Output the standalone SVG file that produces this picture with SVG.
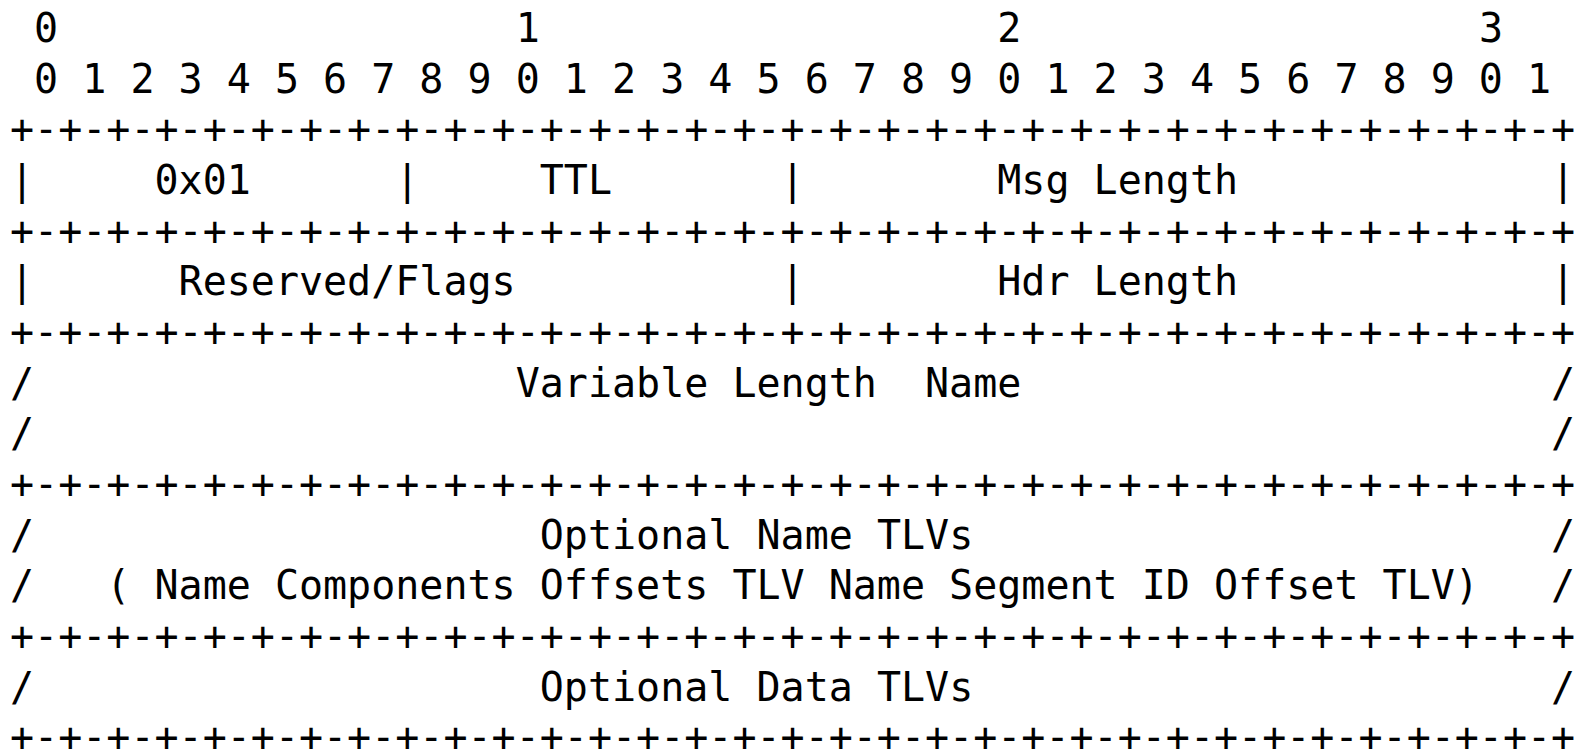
<svg xmlns="http://www.w3.org/2000/svg" width="1581" height="751" viewBox="0 0 1581 751">
<style>
text{font-family:"DejaVu Sans Mono","Liberation Mono",monospace;font-size:40px;fill:#000;}
</style>
<rect x="0" y="0" width="1581" height="751" fill="#fff"/>
<g id="ruler">
<text x="34.08" y="42">0</text>
<text x="515.68" y="42">1</text>
<text x="997.28" y="42">2</text>
<text x="1478.88" y="42">3</text>
<text x="34.08" y="92.7" textLength="1517.04" lengthAdjust="spacing">0 1 2 3 4 5 6 7 8 9 0 1 2 3 4 5 6 7 8 9 0 1 2 3 4 5 6 7 8 9 0 1</text>
</g>
<g id="connectors">
<text x="10" y="143.3" textLength="1565.2" lengthAdjust="spacing">+-+-+-+-+-+-+-+-+-+-+-+-+-+-+-+-+-+-+-+-+-+-+-+-+-+-+-+-+-+-+-+-+</text>
<text x="10" y="244.7" textLength="1565.2" lengthAdjust="spacing">+-+-+-+-+-+-+-+-+-+-+-+-+-+-+-+-+-+-+-+-+-+-+-+-+-+-+-+-+-+-+-+-+</text>
<text x="10" y="346" textLength="1565.2" lengthAdjust="spacing">+-+-+-+-+-+-+-+-+-+-+-+-+-+-+-+-+-+-+-+-+-+-+-+-+-+-+-+-+-+-+-+-+</text>
<text x="10" y="498" textLength="1565.2" lengthAdjust="spacing">+-+-+-+-+-+-+-+-+-+-+-+-+-+-+-+-+-+-+-+-+-+-+-+-+-+-+-+-+-+-+-+-+</text>
<text x="10" y="650" textLength="1565.2" lengthAdjust="spacing">+-+-+-+-+-+-+-+-+-+-+-+-+-+-+-+-+-+-+-+-+-+-+-+-+-+-+-+-+-+-+-+-+</text>
<text x="10" y="751.4" textLength="1565.2" lengthAdjust="spacing">+-+-+-+-+-+-+-+-+-+-+-+-+-+-+-+-+-+-+-+-+-+-+-+-+-+-+-+-+-+-+-+-+</text>
<text x="10" y="194">|</text>
<text x="395.28" y="194">|</text>
<text x="780.56" y="194">|</text>
<text x="1551.12" y="194">|</text>
<text x="10" y="295.4">|</text>
<text x="780.56" y="295.4">|</text>
<text x="1551.12" y="295.4">|</text>
<text x="10" y="396.7">/</text>
<text x="1551.12" y="396.7">/</text>
<text x="10" y="447.4">/</text>
<text x="1551.12" y="447.4">/</text>
<text x="10" y="548.7">/</text>
<text x="1551.12" y="548.7">/</text>
<text x="10" y="599.4">/</text>
<text x="1551.12" y="599.4">/</text>
<text x="10" y="700.7">/</text>
<text x="1551.12" y="700.7">/</text>
</g>
<g id="field-type"><text x="154.48" y="194">0x01</text></g>
<g id="field-ttl"><text x="539.76" y="194">TTL</text></g>
<g id="field-msg-length"><text x="997.28" y="194">Msg Length</text></g>
<g id="field-flags"><text x="178.56" y="295.4">Reserved/Flags</text></g>
<g id="field-hdr-length"><text x="997.28" y="295.4">Hdr Length</text></g>
<g id="field-name"><text x="515.68" y="396.7" textLength="505.68" lengthAdjust="spacing" xml:space="preserve">Variable Length  Name</text></g>
<g id="field-name-tlvs">
<text x="539.76" y="548.7">Optional Name TLVs</text>
<text x="106.32" y="599.4" textLength="1372.56" lengthAdjust="spacing">( Name Components Offsets TLV Name Segment ID Offset TLV)</text>
</g>
<g id="field-data-tlvs"><text x="539.76" y="700.7">Optional Data TLVs</text></g>
</svg>
